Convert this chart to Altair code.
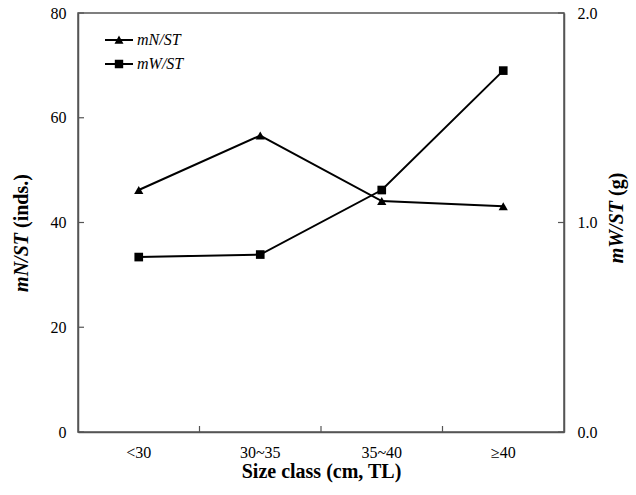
import altair as alt
import pandas as pd

sizes = ["<30", "30~35", "35~40", "≥40"]
mn_values = [46.2, 56.6, 44.1, 43.1]
mw_values = [0.835, 0.847, 1.155, 1.725]
series_names = ["mN/ST", "mW/ST"]
left_ticks = [0, 20, 40, 60, 80]
right_ticks = [0.0, 1.0, 2.0]

W, H = 486, 419
FONT = "Liberation Serif"
AXIS_COLOR = "#555555"

df = pd.DataFrame({"size": sizes, "mN": mn_values, "mW": mw_values})
lt = pd.DataFrame({"t": left_ticks})
rt = pd.DataFrame({"t": right_ticks})
xt = pd.DataFrame({"size": sizes[1:]})
leg = pd.DataFrame({"series": series_names})

x_scale = alt.Scale(type="band", domain=sizes, paddingInner=0, paddingOuter=0)
x_axis = alt.Axis(title="Size class (cm, TL)", labelAngle=0, ticks=False, tickSize=0,
                  labelPadding=12, titlePadding=1)


def xenc(**kw):
    return alt.X("size:N", scale=x_scale, axis=x_axis, **kw)


yl_scale = alt.Scale(domain=[0, 80], nice=False, zero=True)
yl_axis = alt.Axis(title=None, values=left_ticks, ticks=False, tickSize=0, labelPadding=12,
                   orient="left")
yr_scale = alt.Scale(domain=[0, 2], nice=False, zero=True)
yr_axis = alt.Axis(title=None, values=right_ticks, format=".1f", ticks=False, tickSize=0,
                   labelPadding=13, orient="right")

line_n = alt.Chart(df).mark_line(color="black", strokeWidth=2).encode(
    x=xenc(), y=alt.Y("mN:Q", scale=yl_scale, axis=yl_axis))
pts_n = alt.Chart(df).mark_point(shape="triangle-up", filled=True, color="black",
                                 size=85, opacity=1).encode(
    x=xenc(), y=alt.Y("mN:Q", scale=yl_scale, axis=yl_axis))
ticks_l = alt.Chart(lt).mark_rule(color=AXIS_COLOR, strokeWidth=1.2).encode(
    y=alt.Y("t:Q", scale=yl_scale, axis=yl_axis), x=alt.value(0), x2=alt.value(6))
ticks_x = alt.Chart(xt).mark_rule(color=AXIS_COLOR, strokeWidth=1.2).encode(
    x=xenc(bandPosition=0), y=alt.value(H - 6), y2=alt.value(H))
left = alt.layer(line_n, pts_n, ticks_l, ticks_x)

line_w = alt.Chart(df).mark_line(color="black", strokeWidth=2).encode(
    x=xenc(), y=alt.Y("mW:Q", scale=yr_scale, axis=yr_axis))
pts_w = alt.Chart(df).mark_point(shape="square", filled=True, color="black",
                                 size=75, opacity=1).encode(
    x=xenc(), y=alt.Y("mW:Q", scale=yr_scale, axis=yr_axis))
ticks_r = alt.Chart(rt).mark_rule(color=AXIS_COLOR, strokeWidth=1.2).encode(
    y=alt.Y("t:Q", scale=yr_scale, axis=yr_axis), x=alt.value(W - 6), x2=alt.value(W))
right = alt.layer(line_w, pts_w, ticks_r)

bar = "M-1,-0.07L1,-0.07L1,0.07L-1,0.07Z"
tri_path = bar + "M-0.32,0.27L0,-0.33L0.32,0.27Z"
sq_path = bar + "M-0.3,-0.3L0.3,-0.3L0.3,0.3L-0.3,0.3Z"
legend_layer = alt.Chart(leg).transform_filter("false").mark_point(
    filled=True, fill="black", size=784, opacity=1
).encode(
    shape=alt.Shape("series:N", scale=alt.Scale(domain=series_names, range=[tri_path, sq_path]),
                    legend=alt.Legend(title=None, orient="none", legendX=27, legendY=16,
                                      padding=0, symbolSize=784, clipHeight=22, rowPadding=2,
                                      symbolStrokeWidth=0, symbolFillColor="black",
                                      symbolOpacity=1,
                                      labelFont=FONT, labelFontSize=16, labelFontStyle="italic",
                                      labelColor="black", labelOffset=4))
)


def rot_text(txt, x, y, align, style):
    return alt.Chart(alt.Data(values=[{}])).mark_text(
        text=txt, angle=270, align=align, baseline="middle", font=FONT, fontSize=20,
        fontWeight="bold", fontStyle=style, color="black"
    ).encode(x=alt.value(x), y=alt.value(y))


titles = alt.layer(
    rot_text("mN/ST", -56, 220, "right", "italic"),
    rot_text("(inds.)", -56, 215, "left", "normal"),
    rot_text("mW/ST", 539, 188, "right", "italic"),
    rot_text("(g)", 539, 183, "left", "normal"),
)

chart = alt.layer(left, right, legend_layer, titles).resolve_scale(
    y="independent"
).properties(
    width=W, height=H,
    autosize=alt.AutoSizeParams(type="none"),
    padding={"left": 78, "top": 13, "right": 72, "bottom": 63},
).configure_axis(
    labelFont=FONT, labelFontSize=16, labelColor="black",
    titleFont=FONT, titleFontSize=20, titleFontWeight="bold", titleColor="black",
    domainColor=AXIS_COLOR, domainWidth=1.5, grid=False,
).configure_view(stroke=AXIS_COLOR, strokeWidth=1.5)

chart.save("out.html", embed_options={"renderer": "svg", "actions": False})
